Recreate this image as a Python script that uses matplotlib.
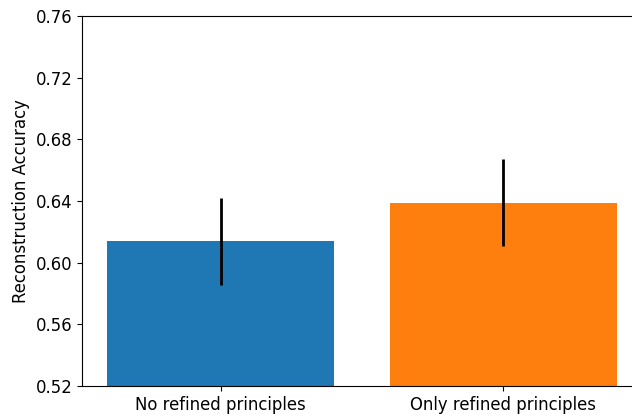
import matplotlib
matplotlib.use("Agg")
import matplotlib.pyplot as plt

categories = ["No refined principles", "Only refined principles"]
values = [0.6138, 0.6390]
errors = [0.0280, 0.0282]
colors = ["#1f77b4", "#ff7f0e"]
yticks = [0.52, 0.56, 0.60, 0.64, 0.68, 0.72, 0.76]

plt.rcParams['font.size'] = 11.9
fig = plt.figure(figsize=(6.32, 4.18), dpi=100)
ax = fig.add_axes([82/632, 32/418, 560/632, 370/418])
x = list(range(len(categories)))
ax.bar(x, values, width=0.8, color=colors)
ax.errorbar(x, values, yerr=errors, fmt='none', ecolor='black', elinewidth=2)
ax.set_xticks(x)
ax.set_xticklabels(categories)
ax.set_ylim(0.52, 0.76)
ax.set_yticks(yticks)
ax.set_yticklabels([f"{t:.2f}" for t in yticks])
ax.set_xlim(-0.49, 1.49)
ax.set_ylabel("Reconstruction Accuracy")
fig.savefig("out.png", dpi=100)
